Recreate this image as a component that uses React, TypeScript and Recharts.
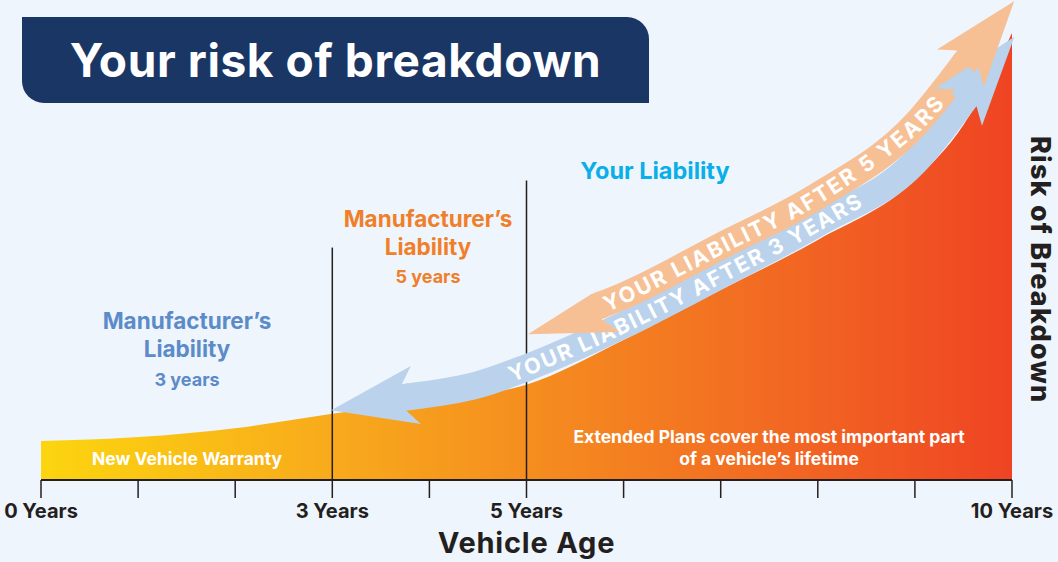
import { ComposedChart, Area, Line, XAxis, YAxis, ReferenceLine } from 'recharts';

// risk curve (index, 100 = risk at 10 years)
const years = [0, 1, 2, 3, 4, 5, 6, 7, 8, 9, 9.5, 10];
const risk = [8.7, 9.6, 11.6, 14.8, 17.9, 21.3, 31.3, 42.5, 53.7, 67.1, 79.4, 100];

// axis ticks
const tickYears = [0, 1, 2, 3, 4, 5, 6, 7, 8, 9, 10];
const labelledYears = [0, 3, 5, 10];
const tickLabels = ['0 Years', '3 Years', '5 Years', '10 Years'];

// warranty end markers
const warrantyEnds = [3, 5];
const warrantyTops = [52, 67];

// liability bands (centre line of each arrow)
const blueBandYears = [3.78, 4.5, 5, 6, 7, 8, 9, 9.5];
const blueBandRisk = [18.6, 21.3, 25.1, 34.7, 45.9, 57.5, 71.1, 84.8];
const orangeBandYears = [5.76, 6, 7, 8, 9, 9.52];
const orangeBandRisk = [39.1, 41.2, 52.3, 63.6, 79.4, 93.5];

const chartData = years.map((year, i) => ({ year, risk: risk[i] }));
const blueBand = blueBandYears.map((year, i) => ({ year, risk: blueBandRisk[i] }));
const orangeBand = orangeBandYears.map((year, i) => ({ year, risk: orangeBandRisk[i] }));

const FONT = 'Inter, "Open Sans", sans-serif';
const DARK = '#231F20';
const BAND = 27;

type Pt = { x: number; y: number };

const smoothPath = (pts: Pt[]) => {
  let d = `M${pts[0].x},${pts[0].y}`;
  for (let i = 0; i < pts.length - 1; i++) {
    const p0 = pts[i - 1] || pts[i];
    const p1 = pts[i];
    const p2 = pts[i + 1];
    const p3 = pts[i + 2] || p2;
    const c1x = p1.x + (p2.x - p0.x) / 6;
    const c1y = p1.y + (p2.y - p0.y) / 6;
    const c2x = p2.x - (p3.x - p1.x) / 6;
    const c2y = p2.y - (p3.y - p1.y) / 6;
    d += ` C${c1x},${c1y} ${c2x},${c2y} ${p2.x},${p2.y}`;
  }
  return d;
};

// arrow head sitting on the end of a band, pointing away from `from`
const headPoints = (base: Pt, from: Pt, len: number, halfA: number, halfB: number) => {
  const dx = base.x - from.x;
  const dy = base.y - from.y;
  const l = Math.hypot(dx, dy) || 1;
  const ux = dx / l;
  const uy = dy / l;
  const nx = -uy;
  const ny = ux;
  const h = BAND / 2;
  const p = (a: number, n: number) => `${base.x + ux * a + nx * n},${base.y + uy * a + ny * n}`;
  return [p(len, 0), p(-8, halfA), p(4, h), p(-2, h), p(-2, -h), p(4, -h), p(-8, -halfB)].join(' ');
};

const bandDots = (id: string, count: number, color: string, label: string, offset: number, textLen: number, heads: number[][]) => {
  let pts: Pt[] = [];
  return (props: any) => {
    const { cx, cy, index } = props;
    if (index === 0) pts = [];
    pts[index] = { x: cx, y: cy };
    if (index < count - 1) return <g key={`${id}-${index}`} />;
    return (
      <g key={`${id}-${index}`}>
        <polygon points={headPoints(pts[0], pts[1], heads[0][0], heads[0][1], heads[0][2])} fill={color} />
        <polygon points={headPoints(pts[count - 1], pts[count - 2], heads[1][0], heads[1][1], heads[1][2])} fill={color} />
        <path id={id} d={smoothPath(pts)} fill="none" />
        <text fill="#fff" fontSize={21.5} fontWeight={700} fontFamily={FONT} dominantBaseline="central">
          <textPath href={`#${id}`} startOffset={offset} textLength={textLen} lengthAdjust="spacing">
            {label}
          </textPath>
        </text>
      </g>
    );
  };
};

const YearTick = (props: any) => {
  const { x, y, payload } = props;
  const i = labelledYears.indexOf(payload.value);
  if (i < 0) return <g />;
  return (
    <text x={x} y={y} dy={18} textAnchor="middle" fill={DARK} fontSize={20} fontWeight={700} fontFamily={FONT}>
      {tickLabels[i]}
    </text>
  );
};

const note = (left: number, top: number, color: string, size: number, text: string, width = 300) => (
  <div
    style={{
      position: 'absolute', left: left - width / 2, top, width, textAlign: 'center', color,
      fontSize: size, fontWeight: 700, fontFamily: FONT, lineHeight: 1, whiteSpace: 'nowrap',
    }}
  >
    {text}
  </div>
);

export default function App() {
  return (
    <div style={{ position: 'absolute', left: 0, top: 0, width: 1058, height: 562, background: '#EFF5FC', overflow: 'hidden' }}>
      <ComposedChart width={1058} height={562} data={chartData} margin={{ top: 33, right: 46, bottom: 0, left: 41 }}>
        <defs>
          <linearGradient id="riskFill" x1="0" y1="0" x2="1" y2="0">
            <stop offset="0%" stopColor="#FCD50F" />
            <stop offset="30%" stopColor="#F8AA1C" />
            <stop offset="50%" stopColor="#F58E1F" />
            <stop offset="75%" stopColor="#F26A22" />
            <stop offset="100%" stopColor="#EF4423" />
          </linearGradient>
        </defs>
        <XAxis
          dataKey="year"
          type="number"
          domain={[0, 10]}
          ticks={tickYears}
          interval={0}
          height={82}
          tickSize={18}
          tickLine={{ stroke: DARK, strokeWidth: 1.5 }}
          axisLine={{ stroke: DARK, strokeWidth: 2 }}
          tick={<YearTick />}
          label={{ value: 'Vehicle Age', position: 'insideBottom', offset: 9, fill: DARK, fontSize: 29, fontWeight: 700, fontFamily: FONT, letterSpacing: 0.8 }}
        />
        <YAxis hide domain={[0, 100]} />
        <Area dataKey="risk" type="monotone" stroke="none" fill="url(#riskFill)" fillOpacity={1} isAnimationActive={false} activeDot={false} />
        {warrantyEnds.map((yr, i) => (
          <ReferenceLine key={yr} segment={[{ x: yr, y: 0 }, { x: yr, y: warrantyTops[i] }]} stroke={DARK} strokeWidth={1.5} />
        ))}
        <Line
          data={blueBand}
          dataKey="risk"
          type="monotone"
          stroke="#BAD2EB"
          strokeWidth={BAND}
          isAnimationActive={false}
          activeDot={false}
          dot={bandDots('blueBandPath', blueBand.length, '#BAD2EB', 'YOUR LIABILITY AFTER 3 YEARS', 104, 392, [[78, 30, 29], [82, 30, 30]])}
        />
        <Line
          data={orangeBand}
          dataKey="risk"
          type="monotone"
          stroke="#F7BF94"
          strokeWidth={BAND}
          isAnimationActive={false}
          activeDot={false}
          dot={bandDots('orangeBandPath', orangeBand.length, '#F7BF94', 'YOUR LIABILITY AFTER 5 YEARS', 4, 395, [[78, 16, 32], [78, 30, 30]])}
        />
      </ComposedChart>

      <div
        style={{
          position: 'absolute', left: 22, top: 17, width: 627, height: 86, background: '#1A3665',
          borderRadius: '0 22px 0 22px', color: '#fff', fontFamily: FONT, fontWeight: 700, fontSize: 46,
          display: 'flex', alignItems: 'center', justifyContent: 'center', letterSpacing: 0.6,
        }}
      >
        Your risk of breakdown
      </div>

      {note(187, 310, '#5B8BC9', 22.5, 'Manufacturer’s')}
      {note(187, 338, '#5B8BC9', 22.5, 'Liability')}
      {note(187, 371, '#5B8BC9', 18, '3 years')}

      {note(428, 208, '#F07F2A', 22.5, 'Manufacturer’s')}
      {note(428, 236, '#F07F2A', 22.5, 'Liability')}
      {note(428, 268, '#F07F2A', 18, '5 years')}

      {note(655, 159, '#0AAEE8', 23.5, 'Your Liability')}

      {note(187, 450, '#fff', 17.5, 'New Vehicle Warranty')}
      {note(769, 428, '#fff', 17.5, 'Extended Plans cover the most important part', 500)}
      {note(769, 450, '#fff', 17.5, 'of a vehicle’s lifetime', 500)}

      <div
        style={{
          position: 'absolute', left: 1023, top: 126, height: 288, width: 34, writingMode: 'vertical-rl',
          color: DARK, fontFamily: FONT, fontWeight: 800, fontSize: 27, lineHeight: '34px', textAlign: 'center',
          letterSpacing: 1.2,
        }}
      >
        Risk of Breakdown
      </div>
    </div>
  );
}
